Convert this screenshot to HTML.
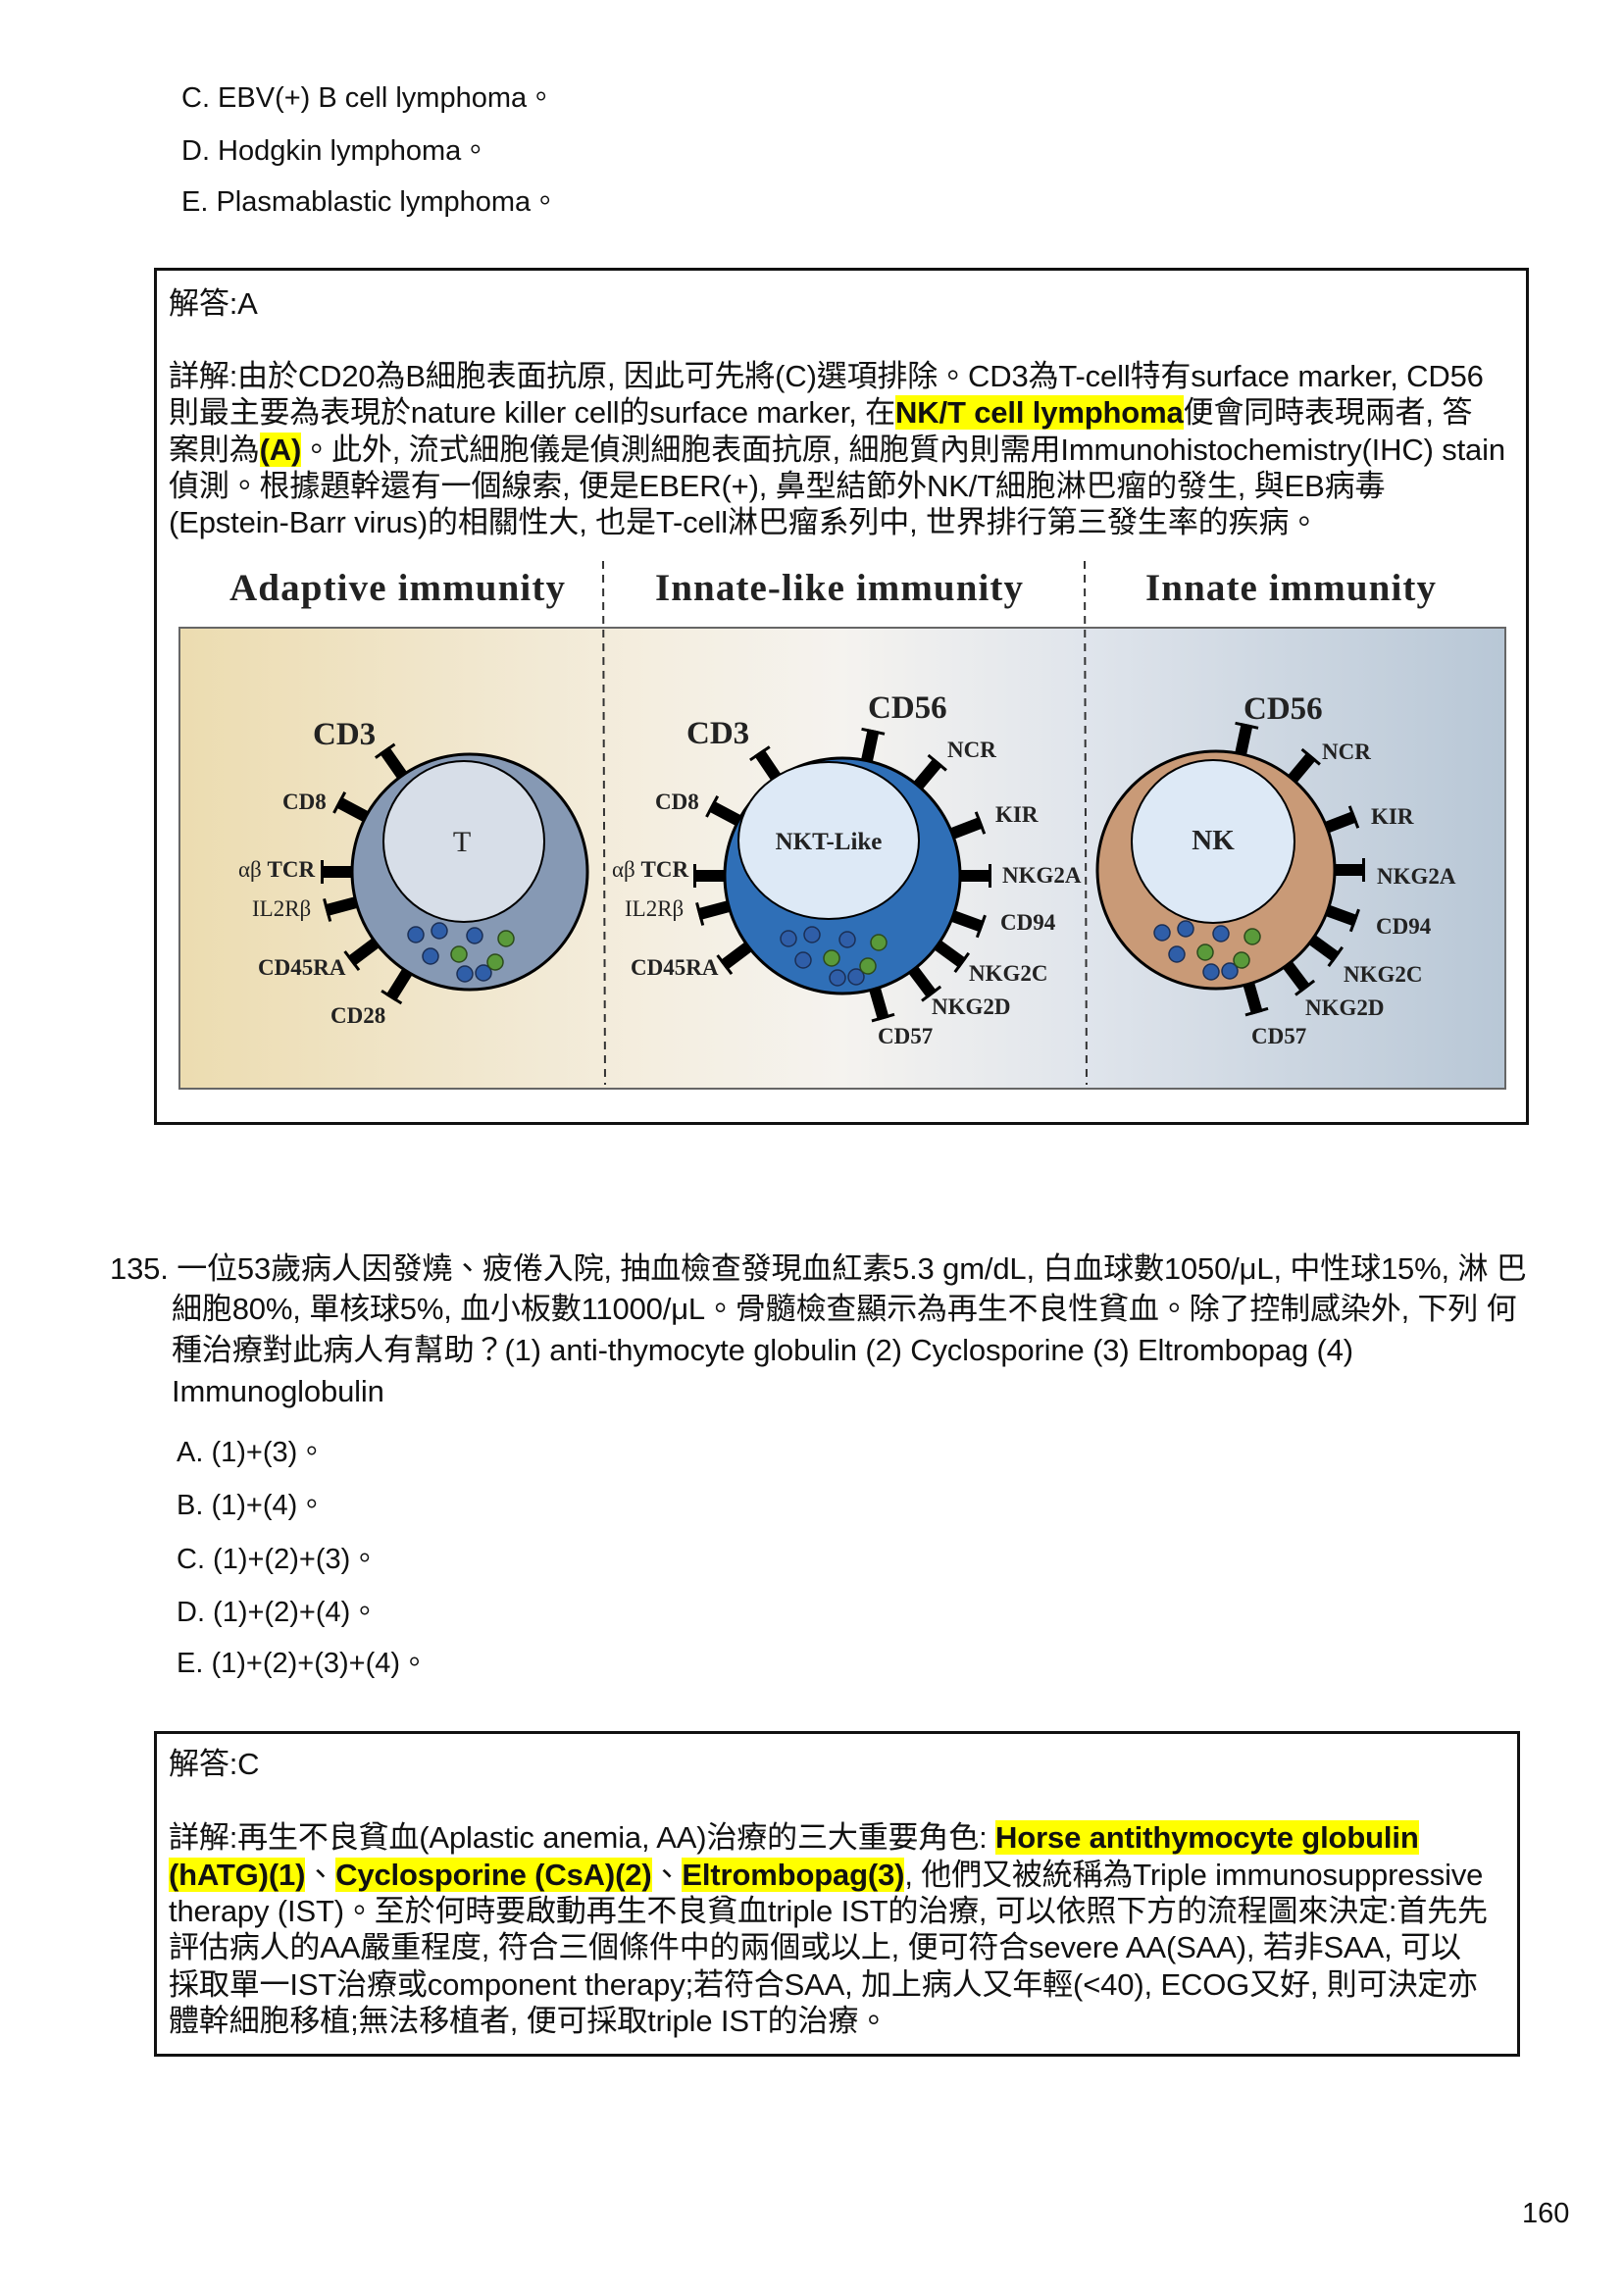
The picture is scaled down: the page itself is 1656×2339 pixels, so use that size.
<!DOCTYPE html>
<html><head><meta charset="utf-8">
<style>
html,body{margin:0;padding:0;background:#fff;}
body{width:1656px;height:2339px;position:relative;overflow:hidden;font-family:"Liberation Sans","Noto Sans CJK TC",sans-serif;color:#111;}
.t{position:absolute;white-space:nowrap;font-size:29px;line-height:36px;}
.p{font-size:31px;letter-spacing:-0.15px;}
.box{position:absolute;border:3px solid #111;box-sizing:border-box;}
.hl{background:#ffff00;font-weight:bold;}
</style></head><body>
<div class="t" style="left:185px;top:82px">C. EBV(+) B cell lymphoma。</div>
<div class="t" style="left:185px;top:136px">D. Hodgkin lymphoma。</div>
<div class="t" style="left:185px;top:188px">E. Plasmablastic lymphoma。</div>

<div class="box" style="left:157px;top:273px;width:1402px;height:874px"></div>
<div class="t p" style="left:172px;top:292px">解答:A</div>
<div class="t p" style="left:172px;top:366px">詳解:由於CD20為B細胞表面抗原, 因此可先將(C)選項排除。CD3為T-cell特有surface marker, CD56</div>
<div class="t p" style="left:172px;top:403px">則最主要為表現於nature killer cell的surface marker, 在<span class="hl">NK/T cell lymphoma</span>便會同時表現兩者, 答</div>
<div class="t p" style="left:172px;top:441px">案則為<span class="hl">(A)</span>。此外, 流式細胞儀是偵測細胞表面抗原, 細胞質內則需用Immunohistochemistry(IHC) stain</div>
<div class="t p" style="left:172px;top:478px">偵測。根據題幹還有一個線索, 便是EBER(+), 鼻型結節外NK/T細胞淋巴瘤的發生, 與EB病毒</div>
<div class="t p" style="left:172px;top:515px">(Epstein-Barr virus)的相關性大, 也是T-cell淋巴瘤系列中, 世界排行第三發生率的疾病。</div>

<svg style="position:absolute;left:0;top:0" width="1656" height="1160" viewBox="0 0 1656 1160">
<defs>
<linearGradient id="bg" x1="0" x2="1" y1="0" y2="0">
<stop offset="0" stop-color="#ecdcb0"/><stop offset="0.18" stop-color="#f0e5c9"/>
<stop offset="0.36" stop-color="#f4eee0"/><stop offset="0.5" stop-color="#f5f3ef"/>
<stop offset="0.68" stop-color="#e0e5ec"/><stop offset="1" stop-color="#b8c7d6"/>
</linearGradient>
<g id="m"><rect x="112" y="-6" width="40" height="12" fill="#000"/><rect x="149" y="-12" width="3" height="24" fill="#000"/></g>
<g id="dots">
<circle cx="-55" cy="64" r="8" fill="#2f5ea8" stroke="#1b2f55" stroke-width="1.5"/>
<circle cx="-31" cy="60" r="8" fill="#2f5ea8" stroke="#1b2f55" stroke-width="1.5"/>
<circle cx="5" cy="65" r="8" fill="#2f5ea8" stroke="#1b2f55" stroke-width="1.5"/>
<circle cx="-40" cy="86" r="8" fill="#2f5ea8" stroke="#1b2f55" stroke-width="1.5"/>
<circle cx="-5" cy="104" r="8" fill="#2f5ea8" stroke="#1b2f55" stroke-width="1.5"/>
<circle cx="14" cy="103" r="8" fill="#2f5ea8" stroke="#1b2f55" stroke-width="1.5"/>
<circle cx="37" cy="68" r="8" fill="#5a9a3a" stroke="#2c4a1c" stroke-width="1.5"/>
<circle cx="-11" cy="84" r="8" fill="#5a9a3a" stroke="#2c4a1c" stroke-width="1.5"/>
<circle cx="26" cy="92" r="8" fill="#5a9a3a" stroke="#2c4a1c" stroke-width="1.5"/>
</g>
</defs>
<g font-family="Liberation Serif,serif" font-weight="bold" font-size="39" fill="#222">
<text x="234" y="612" textLength="342">Adaptive immunity</text>
<text x="668" y="612" textLength="375">Innate-like immunity</text>
<text x="1168" y="612" textLength="296">Innate immunity</text>
</g>
<rect x="183" y="640" width="1352" height="470" fill="url(#bg)" stroke="#666" stroke-width="2"/>
<line x1="615" y1="572" x2="617" y2="1106" stroke="#333" stroke-width="2" stroke-dasharray="8,6"/>
<line x1="1106" y1="572" x2="1108" y2="1106" stroke="#333" stroke-width="2" stroke-dasharray="8,6"/>

<!-- T cell -->
<g transform="translate(479 889)">
<use href="#m" transform="rotate(-125)"/><use href="#m" transform="rotate(-152)"/><use href="#m" transform="rotate(180)"/>
<use href="#m" transform="rotate(165)"/><use href="#m" transform="rotate(143)"/><use href="#m" transform="rotate(122)"/>
<circle r="120" fill="#8699b4" stroke="#000" stroke-width="3"/>
<circle cx="-6" cy="-31" r="82" fill="#d7dee8" stroke="#000" stroke-width="2"/>
<use href="#dots"/>
</g>
<!-- NKT -->
<g transform="translate(859 893)">
<use href="#m" transform="rotate(-124)"/><use href="#m" transform="rotate(-152)"/><use href="#m" transform="rotate(180)"/>
<use href="#m" transform="rotate(165)"/><use href="#m" transform="rotate(143)"/>
<use href="#m" transform="rotate(-78)"/><use href="#m" transform="rotate(-50)"/><use href="#m" transform="rotate(-21)"/>
<use href="#m" transform="rotate(0)"/><use href="#m" transform="rotate(20)"/><use href="#m" transform="rotate(36)"/>
<use href="#m" transform="rotate(53)"/><use href="#m" transform="rotate(74)"/>
<circle r="120" fill="#2f6fb7" stroke="#000" stroke-width="3"/>
<ellipse cx="-14" cy="-36" rx="92" ry="80" fill="#dde9f6" stroke="#000" stroke-width="2"/>
<use href="#dots"/>
</g>
<!-- NK -->
<g transform="translate(1240 887)">
<use href="#m" transform="rotate(-78)"/><use href="#m" transform="rotate(-50)"/><use href="#m" transform="rotate(-21)"/>
<use href="#m" transform="rotate(0)"/><use href="#m" transform="rotate(20)"/><use href="#m" transform="rotate(36)"/>
<use href="#m" transform="rotate(53)"/><use href="#m" transform="rotate(74)"/>
<circle r="121" fill="#c99a77" stroke="#000" stroke-width="3"/>
<circle cx="-3" cy="-29" r="83" fill="#dde9f6" stroke="#000" stroke-width="2"/>
<use href="#dots"/>
</g>

<g font-family="Liberation Serif,serif" font-weight="bold" fill="#222" font-size="23">
<text x="319" y="759" font-size="33">CD3</text>
<text x="288" y="825">CD8</text>
<text x="243" y="894" font-weight="normal">αβ <tspan font-weight="bold">TCR</tspan></text>
<text x="257" y="934" font-weight="normal">IL2Rβ</text>
<text x="263" y="994">CD45RA</text>
<text x="337" y="1043">CD28</text>
<text x="471" y="868" font-size="30" font-weight="normal" text-anchor="middle">T</text>

<text x="700" y="758" font-size="33">CD3</text>
<text x="885" y="732" font-size="33">CD56</text>
<text x="966" y="772">NCR</text>
<text x="1015" y="838">KIR</text>
<text x="1022" y="900">NKG2A</text>
<text x="1020" y="948">CD94</text>
<text x="988" y="1000">NKG2C</text>
<text x="950" y="1034">NKG2D</text>
<text x="895" y="1064">CD57</text>
<text x="668" y="825">CD8</text>
<text x="624" y="894" font-weight="normal">αβ <tspan font-weight="bold">TCR</tspan></text>
<text x="637" y="934" font-weight="normal">IL2Rβ</text>
<text x="643" y="994">CD45RA</text>
<text x="845" y="866" font-size="25" text-anchor="middle">NKT-Like</text>

<text x="1268" y="733" font-size="33">CD56</text>
<text x="1348" y="774">NCR</text>
<text x="1398" y="840">KIR</text>
<text x="1404" y="901">NKG2A</text>
<text x="1403" y="952">CD94</text>
<text x="1370" y="1001">NKG2C</text>
<text x="1331" y="1035">NKG2D</text>
<text x="1276" y="1064">CD57</text>
<text x="1237" y="866" font-size="29" text-anchor="middle">NK</text>
</g>
</svg>

<div class="t p" style="left:112px;top:1276px">135. 一位53歲病人因發燒、疲倦入院, 抽血檢查發現血紅素5.3 gm/dL, 白血球數1050/μL, 中性球15%, 淋 巴</div>
<div class="t p" style="left:175px;top:1317px">細胞80%, 單核球5%, 血小板數11000/μL。骨髓檢查顯示為再生不良性貧血。除了控制感染外, 下列 何</div>
<div class="t p" style="left:175px;top:1359px">種治療對此病人有幫助？(1) anti-thymocyte globulin (2) Cyclosporine (3) Eltrombopag (4)</div>
<div class="t p" style="left:175px;top:1401px">Immunoglobulin</div>
<div class="t" style="left:180px;top:1463px">A. (1)+(3)。</div>
<div class="t" style="left:180px;top:1517px">B. (1)+(4)。</div>
<div class="t" style="left:180px;top:1572px">C. (1)+(2)+(3)。</div>
<div class="t" style="left:180px;top:1626px">D. (1)+(2)+(4)。</div>
<div class="t" style="left:180px;top:1678px">E. (1)+(2)+(3)+(4)。</div>

<div class="box" style="left:157px;top:1765px;width:1393px;height:332px"></div>
<div class="t p" style="left:172px;top:1781px">解答:C</div>
<div class="t p" style="left:172px;top:1856px">詳解:再生不良貧血(Aplastic anemia, AA)治療的三大重要角色: <span class="hl">Horse antithymocyte globulin</span></div>
<div class="t p" style="left:172px;top:1894px"><span class="hl">(hATG)(1)</span>、<span class="hl">Cyclosporine (CsA)(2)</span>、<span class="hl">Eltrombopag(3)</span>, 他們又被統稱為Triple immunosuppressive</div>
<div class="t p" style="left:172px;top:1931px">therapy (IST)。至於何時要啟動再生不良貧血triple IST的治療, 可以依照下方的流程圖來決定:首先先</div>
<div class="t p" style="left:172px;top:1968px">評估病人的AA嚴重程度, 符合三個條件中的兩個或以上, 便可符合severe AA(SAA), 若非SAA, 可以</div>
<div class="t p" style="left:172px;top:2006px">採取單一IST治療或component therapy;若符合SAA, 加上病人又年輕(&lt;40), ECOG又好, 則可決定亦</div>
<div class="t p" style="left:172px;top:2043px">體幹細胞移植;無法移植者, 便可採取triple IST的治療。</div>

<div class="t" style="left:1552px;top:2239px">160</div>
</body></html>
